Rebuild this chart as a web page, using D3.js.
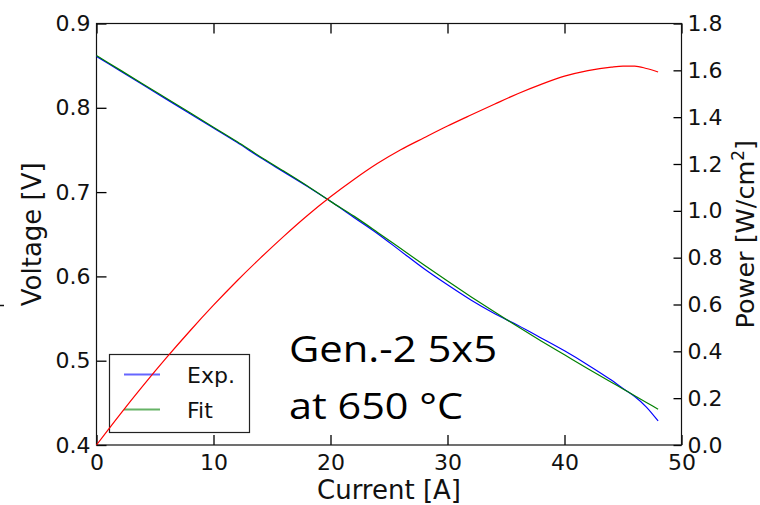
<!DOCTYPE html>
<html>
<head>
<meta charset="utf-8">
<script src="https://cdn.jsdelivr.net/npm/d3@7"></script>
<style>
  html, body { margin: 0; padding: 0; background: #fff; }
  svg { display: block; }
  .tick text { font-family: "DejaVu Sans", sans-serif; font-size: 22px; fill: #111; }
</style>
</head>
<body>
<svg id="chart" width="760" height="505"></svg>
<script>
// ---- data ----
const current = [0, 2, 4, 6, 8, 10, 12, 14, 16, 18, 20, 22, 24, 26, 28, 30, 32, 34, 36, 38, 40, 42, 44, 45, 46, 47, 48];
const voltageExp = [0.861, 0.844, 0.827, 0.810, 0.793, 0.776, 0.759, 0.741, 0.724, 0.707, 0.689, 0.670, 0.651, 0.630, 0.609, 0.590, 0.572, 0.556, 0.542, 0.527, 0.5117, 0.495, 0.477, 0.467, 0.4575, 0.445, 0.4285];
const voltageFit = [0.862, 0.845, 0.828, 0.811, 0.794, 0.777, 0.760, 0.742, 0.725, 0.7075, 0.689, 0.6715, 0.6525, 0.633, 0.6135, 0.5945, 0.576, 0.558, 0.5405, 0.5235, 0.507, 0.4905, 0.4745, 0.4665, 0.4585, 0.4505, 0.4425];
const power = [0, 0.130, 0.2545, 0.374, 0.488, 0.597, 0.7005, 0.798, 0.891, 0.979, 1.060, 1.134, 1.202, 1.261, 1.312, 1.362, 1.409, 1.455, 1.500, 1.540, 1.575, 1.599, 1.614, 1.618, 1.618, 1.608, 1.593];

const xTicks = [0, 10, 20, 30, 40, 50];
const vTicks = [0.4, 0.5, 0.6, 0.7, 0.8, 0.9];
const pTicks = [0.0, 0.2, 0.4, 0.6, 0.8, 1.0, 1.2, 1.4, 1.6, 1.8];
const seriesNames = ["Exp.", "Fit"];
const seriesColors = ["#0000ff", "#008000"];
const powerColor = "#ff0000";
const annotationLines = ["Gen.-2 5x5", "at 650 °C"];

// ---- layout ----
const L = 96.5, R = 681.5, T = 23.5, B = 445;
const svg = d3.select("#chart");

const x = d3.scaleLinear().domain([0, 50]).range([L, R]);
const yV = d3.scaleLinear().domain([0.4, 0.9]).range([B, T]);
const yP = d3.scaleLinear().domain([0, 1.8]).range([B, T]);

// axes with inward ticks
const gL = svg.append("g").attr("transform", `translate(${L},0)`)
  .call(d3.axisLeft(yV).tickValues(vTicks).tickFormat(d3.format(".1f"))
    .tickSizeInner(-10).tickSizeOuter(0).tickPadding(6));
const gR = svg.append("g").attr("transform", `translate(${R},0)`)
  .call(d3.axisRight(yP).tickValues(pTicks).tickFormat(d3.format(".1f"))
    .tickSizeInner(-8).tickSizeOuter(0).tickPadding(6));
const gB = svg.append("g").attr("transform", `translate(0,${B})`)
  .call(d3.axisBottom(x).tickValues(xTicks).tickFormat(d3.format("d"))
    .tickSizeInner(-10).tickSizeOuter(0).tickPadding(9));
const gT = svg.append("g").attr("transform", `translate(0,${T})`)
  .call(d3.axisTop(x).tickValues(xTicks).tickFormat("")
    .tickSizeInner(-10).tickSizeOuter(0));
[gL, gR, gB, gT].forEach(g => {
  g.select(".domain").remove();
  g.selectAll(".tick line").attr("stroke", "#000").attr("stroke-width", 1.3);
});

// spines
svg.append("rect").attr("x", L).attr("y", T).attr("width", R - L).attr("height", B - T)
  .attr("fill", "none").attr("stroke", "#111").attr("stroke-width", 1.2);

// voltage lines
const idx = d3.range(current.length);
[voltageExp, voltageFit].forEach((vals, i) => {
  svg.append("path")
    .datum(idx)
    .attr("fill", "none")
    .attr("stroke", seriesColors[i])
    .attr("stroke-width", 1.2)
    .attr("d", d3.line().x(k => x(current[k])).y(k => yV(vals[k])).curve(d3.curveMonotoneX));
});

// legend
const lg = svg.append("g");
lg.append("rect").attr("x", 109.5).attr("y", 354.5).attr("width", 140).attr("height", 78)
  .attr("fill", "#fff").attr("stroke", "#222").attr("stroke-width", 1.2);
seriesNames.forEach((name, i) => {
  const yy = 374.5 + i * 35;
  lg.append("line").attr("x1", 124).attr("x2", 160).attr("y1", yy).attr("y2", yy)
    .attr("stroke", seriesColors[i]).attr("stroke-width", 2).attr("stroke-opacity", 0.6);
  lg.append("text").attr("x", 187).attr("y", yy + 8)
    .attr("font-family", "DejaVu Sans, sans-serif").attr("font-size", 22).attr("fill", "#111")
    .text(name);
});

// power line (twin axis, drawn on top)
svg.append("path")
  .datum(idx)
  .attr("fill", "none")
  .attr("stroke", powerColor)
  .attr("stroke-width", 1.2)
  .attr("d", d3.line().x(k => x(current[k])).y(k => yP(power[k])).curve(d3.curveMonotoneX));

// axis titles
svg.append("text").attr("x", (L + R) / 2).attr("y", 499).attr("text-anchor", "middle")
  .attr("font-family", "DejaVu Sans, sans-serif").attr("font-size", 26).attr("fill", "#111")
  .text("Current [A]");
svg.append("text").attr("transform", `translate(41,${(T + B) / 2}) rotate(-90)`).attr("text-anchor", "middle")
  .attr("font-family", "DejaVu Sans, sans-serif").attr("font-size", 26).attr("fill", "#111")
  .text("Voltage [V]");
const pt = svg.append("text").attr("transform", `translate(754,${(T + B) / 2}) rotate(-90)`).attr("text-anchor", "middle")
  .attr("font-family", "DejaVu Sans, sans-serif").attr("font-size", 25.5).attr("fill", "#111");
pt.append("tspan").text("Power [W/cm");
pt.append("tspan").attr("dy", -10).attr("font-size", 17).text("2");
pt.append("tspan").attr("dy", 10).text("]");

// small stray mark at left edge
svg.append("line").attr("x1", 0).attr("x2", 4).attr("y1", 305.5).attr("y2", 305.5)
  .attr("stroke", "#111").attr("stroke-width", 1.5);

// annotation
annotationLines.forEach((t, i) => {
  svg.append("text").attr("x", 289).attr("y", 362 + i * 56.5)
    .attr("font-family", "Open Sans, Lato, sans-serif").attr("font-size", 37).attr("fill", "#000")
    .attr("textLength", i === 0 ? 208 : 174).attr("lengthAdjust", "spacingAndGlyphs")
    .text(t);
});
</script>
</body>
</html>
